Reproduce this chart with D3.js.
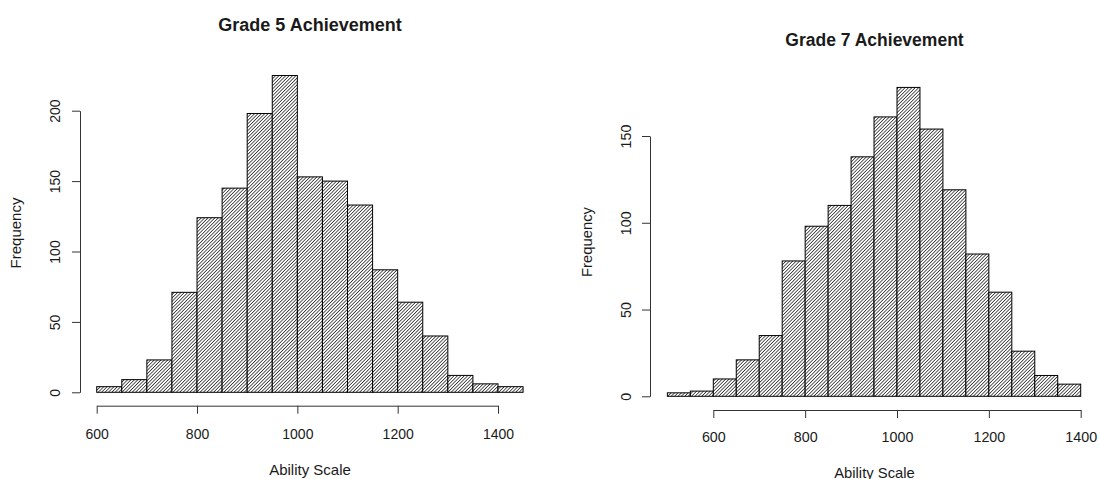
<!DOCTYPE html>
<html>
<head>
<meta charset="utf-8">
<script src="https://cdn.jsdelivr.net/npm/d3@7"></script>
<style>
  html, body { margin: 0; padding: 0; background: #fff; }
  svg { display: block; }
  text { font-family: "Liberation Sans", Arial, sans-serif; fill: #1a1a1a; }
</style>
</head>
<body>
<svg id="chart" width="1099" height="479"></svg>
<script>
// Histogram bins (lower edges, width 50) and frequencies
const grade5Bins = [600, 650, 700, 750, 800, 850, 900, 950, 1000, 1050, 1100, 1150, 1200, 1250, 1300, 1350, 1400];
const grade5Counts = [4, 9, 23, 71, 124, 145, 198, 225, 153, 150, 133, 87, 64, 40, 12, 6, 4];

const grade7Bins = [500, 550, 600, 650, 700, 750, 800, 850, 900, 950, 1000, 1050, 1100, 1150, 1200, 1250, 1300, 1350];
const grade7Counts = [2, 3, 10, 21, 35, 78, 98, 110, 138, 161, 178, 154, 119, 82, 60, 26, 12, 7];

const binWidth = 50;
const xTickValues = [600, 800, 1000, 1200, 1400];
const grade5YTicks = [0, 50, 100, 150, 200];
const grade7YTicks = [0, 50, 100, 150];

const svg = d3.select("#chart");

// diagonal hatching used to fill the bars
const defs = svg.append("defs");
const pat = defs.append("pattern")
  .attr("id", "hatch")
  .attr("patternUnits", "userSpaceOnUse")
  .attr("width", 2.4)
  .attr("height", 2.4)
  .attr("patternTransform", "rotate(45)");
pat.append("rect").attr("width", 2.4).attr("height", 2.4).attr("fill", "#fff");
pat.append("line")
  .attr("x1", 1.2).attr("y1", 0).attr("x2", 1.2).attr("y2", 2.4)
  .attr("stroke", "#333").attr("stroke-width", 0.85);

function panel(cfg) {
  const g = svg.append("g");
  const x = d3.scaleLinear().domain([600, 1400]).range(cfg.xRange);
  const y = d3.scaleLinear().domain([0, cfg.yMax]).range(cfg.yRange);

  // bars
  g.selectAll("rect.bar")
    .data(cfg.bins.map((b, i) => ({ b, c: cfg.counts[i] })))
    .join("rect")
    .attr("class", "bar")
    .attr("x", d => x(d.b))
    .attr("width", d => x(d.b + binWidth) - x(d.b))
    .attr("y", d => y(d.c))
    .attr("height", d => y(0) - y(d.c))
    .attr("fill", "url(#hatch)")
    .attr("stroke", "#000")
    .attr("stroke-width", 1);

  // x axis
  const xa = g.append("g")
    .attr("transform", `translate(0,${cfg.xAxisY})`)
    .call(d3.axisBottom(x).tickValues(xTickValues).tickSizeOuter(0).tickSizeInner(8).tickPadding(0).tickFormat(d3.format("d")));
  xa.select(".domain").attr("stroke", "#333");
  xa.selectAll(".tick line").attr("stroke", "#333");
  xa.selectAll(".tick text")
    .attr("y", cfg.xLabelY - cfg.xAxisY)
    .attr("dy", 0)
    .style("font-size", cfg.tickFont + "px")
    .style("font-family", "Liberation Sans, Arial, sans-serif")
    .attr("fill", "#1a1a1a");

  // y axis
  const ya = g.append("g")
    .attr("transform", `translate(${cfg.yAxisX},0)`)
    .call(d3.axisLeft(y).tickValues(cfg.yTicks).tickSizeOuter(0).tickSizeInner(8).tickFormat(d3.format("d")));
  ya.select(".domain").attr("stroke", "#333");
  ya.selectAll(".tick line").attr("stroke", "#333");
  ya.selectAll(".tick text")
    .attr("x", 0).attr("y", 0).attr("dy", 0)
    .attr("text-anchor", "middle")
    .attr("transform", `translate(${cfg.yLabelX - cfg.yAxisX},0) rotate(-90)`)
    .style("font-size", cfg.tickFont + "px")
    .style("font-family", "Liberation Sans, Arial, sans-serif")
    .attr("fill", "#1a1a1a");

  // titles
  g.append("text")
    .attr("x", cfg.titleX).attr("y", cfg.titleY)
    .attr("text-anchor", "middle")
    .style("font-weight", "bold")
    .style("font-size", cfg.titleFont + "px")
    .attr("fill", "#000")
    .text(cfg.title);

  g.append("text")
    .attr("x", cfg.titleX).attr("y", cfg.xTitleY)
    .attr("text-anchor", "middle")
    .style("font-size", cfg.labFont + "px")
    .text("Ability Scale");

  g.append("text")
    .attr("transform", `translate(${cfg.yTitleX},${cfg.yTitleCY}) rotate(-90)`)
    .attr("text-anchor", "middle")
    .style("font-size", cfg.labFont + "px")
    .text("Frequency");
}

panel({
  bins: grade5Bins, counts: grade5Counts, yMax: 200, yTicks: grade5YTicks,
  xRange: [96.7, 498], yRange: [392.3, 110.7],
  xAxisY: 405.7, yAxisX: 80,
  xLabelY: 439, yLabelX: 60,
  title: "Grade 5 Achievement", titleX: 310, titleY: 31, titleFont: 18,
  xTitleY: 474.5, yTitleX: 21, yTitleCY: 233,
  tickFont: 14, labFont: 15
});

panel({
  bins: grade7Bins, counts: grade7Counts, yMax: 150, yTicks: grade7YTicks,
  xRange: [713.3, 1080.7], yRange: [396.3, 136],
  xAxisY: 410, yAxisX: 650,
  xLabelY: 441.5, yLabelX: 631,
  title: "Grade 7 Achievement", titleX: 874.5, titleY: 45.5, titleFont: 17.5,
  xTitleY: 477.5, yTitleX: 592, yTitleCY: 242,
  tickFont: 14.3, labFont: 14.8
});
</script>
</body>
</html>
